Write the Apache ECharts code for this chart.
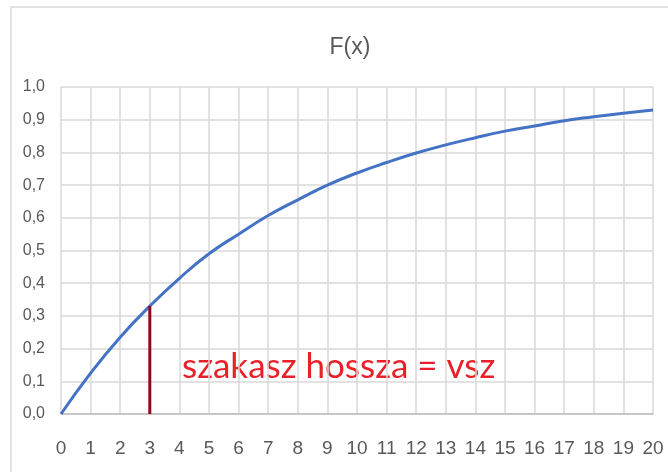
<!DOCTYPE html>
<html><head><meta charset="utf-8">
<script src="https://cdn.jsdelivr.net/npm/echarts@6/dist/echarts.min.js"></script>
<style>html,body{margin:0;padding:0;background:#fff}#c{width:668px;height:472px}</style>
</head><body><div id="c"></div>
<script>
var xValues = [0,1,2,3,4,5,6,7,8,9,10,11,12,13,14,15,16,17,18,19,20];
var fValues = [0,0.125,0.235,0.33,0.415,0.49,0.55,0.607,0.655,0.70,0.737,0.769,0.798,0.823,0.845,0.865,0.881,0.897,0.909,0.92,0.93];
var segX = 3;
var segTop = 0.33;
var titleText = 'F(x)';
var noteText = 'szakasz hossza = vsz';

var font = '"Liberation Sans Narrow","Liberation Sans",sans-serif';
var chart = echarts.init(document.getElementById('c'));
chart.setOption({
  animation: false,
  backgroundColor: '#fff',
  title: {text: titleText, left: 345, top: 31, textAlign: 'center',
    textStyle: {color: '#595959', fontWeight: 'normal', fontSize: 23, fontFamily: font}},
  grid: {left: 61, right: 15, top: 87, bottom: 58},
  xAxis: {type: 'value', min: 0, max: 20, interval: 1,
    axisLine: {show: true, lineStyle: {color: '#bfbfbf', width: 1.5}},
    axisTick: {show: false},
    splitLine: {show: true, lineStyle: {color: '#d9d9d9', width: 1.5}},
    axisLabel: {color: '#595959', fontSize: 19, fontFamily: font, margin: 25}},
  yAxis: {type: 'value', min: 0, max: 1, interval: 0.1,
    axisLine: {show: false}, axisTick: {show: false},
    splitLine: {show: true, lineStyle: {color: '#d9d9d9', width: 1.5}},
    axisLabel: {color: '#595959', fontSize: 16, fontFamily: font, margin: 16,
      formatter: function(v){return v.toFixed(1).replace('.', ',');}}},
  graphic: [
    {type: 'rect', shape: {x: 11, y: 7, width: 700, height: 500},
     style: {fill: 'none', stroke: '#d9d9d9', lineWidth: 1.5}, z: -10},
    {type: 'text', left: 182, top: 349,
     style: {text: noteText, fill: '#e8202a', fontSize: 35, fontFamily: 'Lato,"Open Sans",sans-serif'}}
  ],
  series: [
    {type: 'line', data: xValues.map(function(x, i){return [x, fValues[i]];}),
     smooth: true, showSymbol: false, lineStyle: {color: '#4472c4', width: 3}, z: 3},
    {type: 'line', data: [[segX, 0], [segX, segTop]], showSymbol: false,
     lineStyle: {color: '#8b0a1e', width: 3}, z: 4}
  ]
});
</script></body></html>
